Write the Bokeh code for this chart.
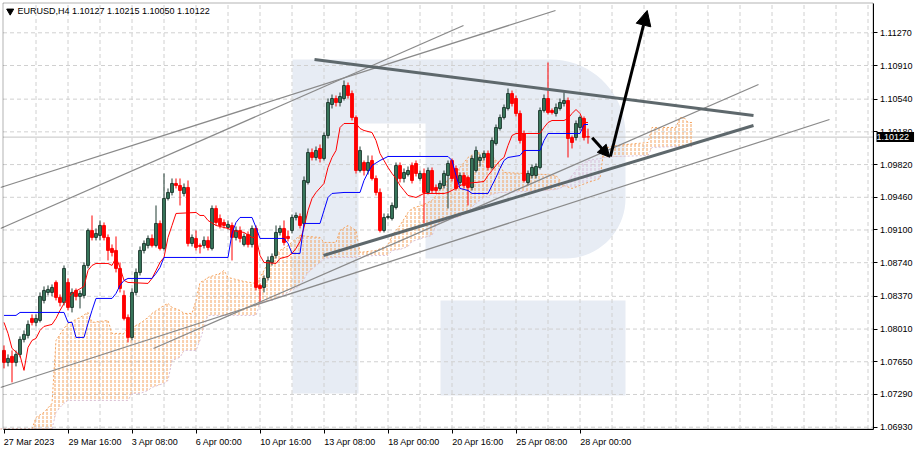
import numpy as np
from bokeh.plotting import figure
from bokeh.models import (Range1d, FixedTicker, PrintfTickFormatter, Label, BoxAnnotation,
                          Arrow, NormalHead, ColumnDataSource)
from bokeh.embed import file_html
from bokeh.resources import INLINE

# ---------------- data ----------------
x_tick_bars = [0, 16, 32, 48, 64, 80, 96, 112, 128, 144]
x_tick_labels = ["27 Mar 2023", "29 Mar 16:00", "3 Apr 08:00", "6 Apr 00:00",
                 "10 Apr 16:00", "13 Apr 08:00", "18 Apr 00:00", "20 Apr 16:00",
                 "25 Apr 08:00", "28 Apr 00:00"]
y_ticks = [1.06930, 1.07290, 1.07650, 1.08010, 1.08370, 1.08740, 1.09100,
           1.09460, 1.09820, 1.10180, 1.10540, 1.10910, 1.11270]
symbol_text = "EURUSD,H4  1.10127 1.10215 1.10050 1.10122"
bid_price = 1.10122

open_ = [1.07775, 1.07643, 1.07709, 1.07643, 1.07731, 1.07896, 1.07940, 1.08127, 1.08083, 1.08105,
         1.08325, 1.08413, 1.08413, 1.08523, 1.08358, 1.08303, 1.08523, 1.08248, 1.08435, 1.08369,
         1.08380, 1.08710, 1.09095, 1.09018, 1.09040, 1.09150, 1.09018, 1.08897, 1.08875, 1.08677,
         1.08380, 1.08138, 1.07918, 1.08413, 1.08633, 1.08875, 1.08930, 1.09007, 1.08930, 1.09172,
         1.08897, 1.09447, 1.09513, 1.09612, 1.09590, 1.09502, 1.09568, 1.08952, 1.09007, 1.08930,
         1.08930, 1.08985, 1.08897, 1.09337, 1.09227, 1.09183, 1.09128, 1.09150, 1.09018, 1.09095,
         1.08941, 1.09051, 1.08941, 1.09117, 1.08490, 1.08468, 1.08578, 1.08743, 1.08820, 1.09073,
         1.09117, 1.09029, 1.09095, 1.09238, 1.09249, 1.09172, 1.09623, 1.09953, 1.09898, 1.09997,
         1.09887, 1.10140, 1.10481, 1.10547, 1.10503, 1.10547, 1.10690, 1.10602, 1.10338, 1.09755,
         1.09843, 1.09755, 1.09865, 1.09667, 1.09513, 1.09095, 1.09238, 1.09227, 1.09348, 1.09810,
         1.09667, 1.09711, 1.09810, 1.09832, 1.09667, 1.09722, 1.09513, 1.09755, 1.09568, 1.09557,
         1.09590, 1.09700, 1.09865, 1.09777, 1.09623, 1.09700, 1.09678, 1.09568, 1.09755, 1.09865,
         1.09898, 1.09942, 1.09788, 1.10052, 1.10217, 1.10338, 1.10437, 1.10602, 1.10547, 1.10382,
         1.10162, 1.09623, 1.09700, 1.09700, 1.09788, 1.10415, 1.10547, 1.10415, 1.10382, 1.10437,
         1.10492, 1.10525, 1.10118, 1.10118, 1.10228, 1.10327, 1.10127]
close = [1.07643, 1.07687, 1.07643, 1.07731, 1.07896, 1.07951, 1.08061, 1.08083, 1.08127, 1.08369,
         1.08435, 1.08446, 1.08468, 1.08358, 1.08303, 1.08677, 1.08248, 1.08413, 1.08369, 1.08402,
         1.08710, 1.09095, 1.09018, 1.09062, 1.09150, 1.09018, 1.08875, 1.08853, 1.08677, 1.08457,
         1.08127, 1.07918, 1.08413, 1.08633, 1.08875, 1.08952, 1.09007, 1.08930, 1.09172, 1.08897,
         1.09447, 1.09513, 1.09612, 1.09590, 1.09535, 1.09568, 1.08952, 1.09018, 1.08908, 1.08919,
         1.08985, 1.08908, 1.09337, 1.09183, 1.09150, 1.09150, 1.09161, 1.09018, 1.09095, 1.09007,
         1.09029, 1.08941, 1.09117, 1.08468, 1.08457, 1.08567, 1.08765, 1.08809, 1.09073, 1.09117,
         1.08963, 1.09007, 1.09238, 1.09260, 1.09150, 1.09645, 1.09953, 1.09898, 1.09975, 1.09887,
         1.10140, 1.10503, 1.10547, 1.10503, 1.10569, 1.10690, 1.10580, 1.10338, 1.09755, 1.09975,
         1.09755, 1.09843, 1.09667, 1.09513, 1.09095, 1.09238, 1.09249, 1.09370, 1.09810, 1.09667,
         1.09733, 1.09755, 1.09645, 1.09722, 1.09722, 1.09513, 1.09755, 1.09535, 1.09535, 1.09612,
         1.09722, 1.09832, 1.09667, 1.09557, 1.09700, 1.09590, 1.09568, 1.09887, 1.09975, 1.09898,
         1.09942, 1.09788, 1.10085, 1.10228, 1.10338, 1.10448, 1.10602, 1.10492, 1.10382, 1.10085,
         1.09645, 1.09722, 1.09788, 1.09799, 1.10415, 1.10547, 1.10393, 1.10393, 1.10448, 1.10503,
         1.10525, 1.10107, 1.10063, 1.10272, 1.10338, 1.10118, 1.10122]
high = [1.07830, 1.07731, 1.07775, 1.07775, 1.07929, 1.07995, 1.08105, 1.08171, 1.08171, 1.08413,
        1.08479, 1.08490, 1.08501, 1.08545, 1.08391, 1.08710, 1.08567, 1.08457, 1.08457, 1.08435,
        1.08743, 1.09117, 1.09260, 1.09117, 1.09205, 1.09183, 1.09051, 1.08941, 1.09029, 1.08743,
        1.08435, 1.08171, 1.08457, 1.08677, 1.08919, 1.08985, 1.09040, 1.09051, 1.09370, 1.09205,
        1.09722, 1.09557, 1.09667, 1.09667, 1.09667, 1.09612, 1.09645, 1.09051, 1.09095, 1.08952,
        1.09029, 1.09029, 1.09370, 1.09370, 1.09271, 1.09216, 1.09205, 1.09183, 1.09139, 1.09139,
        1.09062, 1.09084, 1.09150, 1.09150, 1.08512, 1.08600, 1.08809, 1.08842, 1.09150, 1.09150,
        1.09205, 1.09095, 1.09271, 1.09293, 1.09282, 1.09689, 1.09997, 1.09997, 1.10019, 1.10041,
        1.10173, 1.10547, 1.10591, 1.10580, 1.10613, 1.10745, 1.10723, 1.10635, 1.10360, 1.10019,
        1.09865, 1.09920, 1.09920, 1.09700, 1.09557, 1.09282, 1.09282, 1.09403, 1.09843, 1.09843,
        1.09777, 1.09799, 1.09843, 1.09865, 1.09755, 1.09777, 1.09788, 1.09788, 1.09601, 1.09645,
        1.09755, 1.09865, 1.09887, 1.09810, 1.09733, 1.09733, 1.09700, 1.09920, 1.10019, 1.09931,
        1.09975, 1.09975, 1.10118, 1.10261, 1.10371, 1.10481, 1.10657, 1.10635, 1.10580, 1.10415,
        1.10195, 1.09755, 1.09821, 1.09832, 1.10448, 1.10591, 1.10943, 1.10437, 1.10492, 1.10547,
        1.10613, 1.10558, 1.10140, 1.10305, 1.10360, 1.10349, 1.10215]
low = [1.07577, 1.07599, 1.07423, 1.07599, 1.07698, 1.07863, 1.07907, 1.08050, 1.08039, 1.08083,
       1.08292, 1.08380, 1.08369, 1.08325, 1.08259, 1.08270, 1.08215, 1.08193, 1.08325, 1.08237,
       1.08347, 1.08677, 1.08985, 1.08985, 1.08985, 1.08985, 1.08765, 1.08809, 1.08633, 1.08413,
       1.08105, 1.07863, 1.07885, 1.08380, 1.08600, 1.08842, 1.08897, 1.08908, 1.08908, 1.08875,
       1.08875, 1.09425, 1.09480, 1.09557, 1.09370, 1.09469, 1.08919, 1.08919, 1.08875, 1.08842,
       1.08897, 1.08875, 1.08875, 1.09150, 1.09117, 1.09117, 1.09106, 1.08765, 1.08985, 1.08963,
       1.08919, 1.08908, 1.08908, 1.08435, 1.08303, 1.08413, 1.08545, 1.08710, 1.08787, 1.09040,
       1.08930, 1.08974, 1.09062, 1.09205, 1.09117, 1.09150, 1.09601, 1.09865, 1.09865, 1.09843,
       1.09865, 1.10107, 1.10437, 1.10459, 1.10459, 1.10525, 1.10547, 1.10305, 1.09722, 1.09733,
       1.09700, 1.09711, 1.09645, 1.09480, 1.09073, 1.09073, 1.09216, 1.09205, 1.09326, 1.09623,
       1.09623, 1.09689, 1.09612, 1.09689, 1.09645, 1.09172, 1.09491, 1.09502, 1.09502, 1.09535,
       1.09557, 1.09337, 1.09634, 1.09535, 1.09590, 1.09557, 1.09370, 1.09535, 1.09733, 1.09799,
       1.09865, 1.09755, 1.09766, 1.10030, 1.10195, 1.10316, 1.10415, 1.10459, 1.10349, 1.10052,
       1.09623, 1.09590, 1.09667, 1.09667, 1.09766, 1.10393, 1.10371, 1.10371, 1.10349, 1.10415,
       1.10459, 1.09898, 1.09997, 1.10085, 1.10195, 1.10085, 1.10050]

tenkan_bar = [0, 1, 2, 4, 5, 6, 7, 8, 9, 10,
              12, 13, 14, 15, 16, 17, 20, 21, 22, 23,
              26, 27, 28, 29, 30, 31, 36, 37, 38, 39,
              40, 41, 42, 43, 48, 49, 50, 51, 53, 56,
              57, 60, 62, 63, 64, 65, 68, 69, 71, 72,
              73, 74, 75, 76, 77, 78, 80, 81, 82, 83,
              84, 85, 88, 89, 90, 92, 93, 94, 95, 96,
              97, 98, 99, 100, 101, 103, 105, 110, 111, 112,
              115, 118, 120, 121, 122, 123, 124, 125, 126, 127,
              128, 134, 135, 136, 137, 140, 141, 142, 143, 144,
              145, 146]
tenkan = [1.08083, 1.07962, 1.07797, 1.07720, 1.07555, 1.07808, 1.07885, 1.07907, 1.07995, 1.08039,
          1.08061, 1.08127, 1.08215, 1.08292, 1.08347, 1.08402, 1.08479, 1.08655, 1.08710, 1.08732,
          1.08732, 1.08710, 1.08798, 1.08688, 1.08545, 1.08523, 1.08512, 1.08567, 1.08655, 1.08743,
          1.08798, 1.09018, 1.09150, 1.09282, 1.09293, 1.09260, 1.09260, 1.09205, 1.09150, 1.09117,
          1.09095, 1.09073, 1.09018, 1.09018, 1.08820, 1.08743, 1.08732, 1.08787, 1.08809, 1.08842,
          1.08897, 1.08974, 1.09128, 1.09315, 1.09447, 1.09513, 1.09612, 1.09788, 1.09898, 1.09975,
          1.10228, 1.10272, 1.10272, 1.10217, 1.10195, 1.10173, 1.10085, 1.09942, 1.09865, 1.09788,
          1.09722, 1.09667, 1.09590, 1.09535, 1.09480, 1.09458, 1.09502, 1.09502, 1.09513, 1.09535,
          1.09612, 1.09623, 1.09634, 1.09700, 1.09755, 1.09810, 1.09865, 1.09898, 1.10030, 1.10140,
          1.10162, 1.10162, 1.10228, 1.10283, 1.10305, 1.10305, 1.10327, 1.10382, 1.10426, 1.10382,
          1.10283, 1.10283]

kijun_bar = [0, 3, 4, 15, 16, 17, 18, 20, 21, 22, 23, 27, 28, 29, 30, 31, 37, 38, 39, 40,
             56, 57, 58, 59, 62, 63, 64, 70, 71, 72, 74, 75, 79, 80, 81, 82, 85, 89, 90, 91,
             92, 94, 96, 111, 112, 113, 114, 116, 117, 121, 122, 123, 124, 125, 126, 129, 130, 134, 135, 136,
             144, 145, 146]
kijun = [1.08160, 1.08160, 1.08193, 1.08193, 1.08083, 1.08083, 1.07918, 1.07918, 1.08072, 1.08215,
         1.08347, 1.08347, 1.08402, 1.08490, 1.08545, 1.08567, 1.08567, 1.08622, 1.08688, 1.08798,
         1.08798, 1.09062, 1.09183, 1.09238, 1.09238, 1.09128, 1.09007, 1.09007, 1.08952, 1.08842,
         1.08842, 1.09172, 1.09172, 1.09315, 1.09458, 1.09502, 1.09513, 1.09513, 1.09645, 1.09733,
         1.09810, 1.09865, 1.09909, 1.09909, 1.09865, 1.09700, 1.09557, 1.09535, 1.09502, 1.09502,
         1.09590, 1.09678, 1.09777, 1.09865, 1.09898, 1.09920, 1.09975, 1.09975, 1.10085, 1.10162,
         1.10162, 1.10261, 1.10261]

cloud_bar = [-1, 7, 8, 10, 12, 13, 14, 15, 16, 19,
             21, 22, 26, 27, 30, 31, 32, 34, 36, 37,
             40, 41, 42, 44, 45, 47, 48, 49, 50, 51,
             54, 55, 56, 59, 60, 63, 64, 66, 67, 69,
             71, 74, 76, 79, 80, 83, 84, 86, 88, 89,
             93, 96, 97, 99, 101, 102, 105, 107, 108, 110,
             112, 114, 116, 118, 120, 122, 124, 125, 130, 135,
             138, 140, 142, 144, 146, 149, 150, 153, 161, 162,
             168, 169, 170, 171, 172]
span_a = [1.06785, 1.06873, 1.07038, 1.07093, 1.07192, 1.07885, 1.07951, 1.08017, 1.08072, 1.08138,
          1.08193, 1.08083, 1.08105, 1.07962, 1.07962, 1.08028, 1.08028, 1.08072, 1.08138, 1.08182,
          1.08270, 1.08292, 1.08248, 1.08215, 1.08182, 1.08182, 1.08325, 1.08523, 1.08545, 1.08578,
          1.08622, 1.08655, 1.08578, 1.08545, 1.08534, 1.08512, 1.08578, 1.08732, 1.08798, 1.08875,
          1.08930, 1.09040, 1.09029, 1.09018, 1.08963, 1.08963, 1.09095, 1.09150, 1.09095, 1.08853,
          1.08875, 1.08930, 1.09040, 1.09150, 1.09293, 1.09337, 1.09381, 1.09425, 1.09480, 1.09612,
          1.09689, 1.09788, 1.09898, 1.09953, 1.09942, 1.09920, 1.09810, 1.09733, 1.09722, 1.09711,
          1.09700, 1.09590, 1.09557, 1.09590, 1.09623, 1.09667, 1.09997, 1.10030, 1.10063, 1.10228,
          1.10228, 1.10338, 1.10338, 1.10283, 1.10283]
span_b = [1.06730, 1.06730, 1.06730, 1.06730, 1.06785, 1.07093, 1.07148, 1.07192, 1.07225, 1.07225,
          1.07225, 1.07225, 1.07225, 1.07225, 1.07225, 1.07225, 1.07302, 1.07302, 1.07335, 1.07368,
          1.07412, 1.07445, 1.07665, 1.07698, 1.07775, 1.07775, 1.07775, 1.07885, 1.08028, 1.08160,
          1.08160, 1.08160, 1.08160, 1.08160, 1.08160, 1.08160, 1.08292, 1.08325, 1.08325, 1.08369,
          1.08413, 1.08490, 1.08633, 1.08743, 1.08787, 1.08798, 1.08798, 1.08798, 1.08798, 1.08809,
          1.08820, 1.08820, 1.08875, 1.08886, 1.08919, 1.08974, 1.09018, 1.09040, 1.09150, 1.09205,
          1.09227, 1.09249, 1.09315, 1.09392, 1.09458, 1.09491, 1.09513, 1.09513, 1.09524, 1.09535,
          1.09546, 1.09579, 1.09700, 1.09810, 1.09865, 1.09887, 1.09898, 1.09909, 1.09920, 1.10008,
          1.10019, 1.10019, 1.10019, 1.10019, 1.10019]

# analyst drawings: (bar, price) end points
thin_x0 = [-0.875, -0.875, -0.875, 37.375]
thin_y0 = [1.095677, 1.091165, 1.073669, 1.077960]
thin_x1 = [137.875, 114.875, 206.375, 188.625]
thin_y1 = [1.115154, 1.113503, 1.103159, 1.107011]
thick_x0 = [79.875, 77.625]
thick_y0 = [1.088194, 1.109762]
thick_x1 = [187.375, 187.375]
thick_y1 = [1.102499, 1.103599]
arrow_x0 = [147.05, 151.6]
arrow_y0 = [1.101145, 1.099088]
arrow_x1 = [151.45, 160.8]
arrow_y1 = [1.099011, 1.115154]

# ---------------- layout helpers (chart pixels -> data) ----------------
W, H = 919, 452

def bar_of(px):
    return (px - 3.5) / 4.0

def price_of(py):
    return 1.116254 - 0.00011004 * py

box_l, box_r = bar_of(2.5), bar_of(872.5)
box_t, box_b = price_of(2.5), price_of(428.5)

FONT = "Liberation Sans"
FS = "9px"
CW = {" ": .278, ":": .278, ".": .278, ",": .278, "M": .833, "a": .556, "r": .333,
      "A": .667, "p": .556}

def text_px(s, size=9.0):
    return sum(CW.get(ch, .556) for ch in s) * size

p = figure(frame_width=W, frame_height=H, output_backend="svg", toolbar_location=None,
           x_range=Range1d(bar_of(0), bar_of(W)), y_range=Range1d(price_of(H), price_of(0)),
           y_axis_location="right", min_border_left=0, min_border_top=0,
           min_border_bottom=0, min_border_right=0)
p.background_fill_color = "white"
p.border_fill_color = "white"
p.outline_line_color = None
p.xgrid.visible = False
p.ygrid.visible = False

# watermark (big R logo)
t = np.linspace(0, np.pi / 2, 20)
wx = [292, 550] + list(550 + 75 * np.sin(t)) + [625] + list(565 + 60 * np.cos(t)) + [425, 425, 358, 358, 292]
wy = [59, 59] + list(134 - 75 * np.cos(t)) + [198] + list(198 + 60 * np.sin(t)) + [258, 123, 123, 393, 393]
lx = [440, 625, 625, 440]
ly = [300, 300, 395, 395]
wm = p.patches(xs=[[bar_of(v) for v in wx], [bar_of(v) for v in lx]],
               ys=[[price_of(v) for v in wy], [price_of(v) for v in ly]],
               fill_color="#e7ecf4", line_color=None)
wm.level = "image"

# dashed grid inside the chart box
vg = [b for b in range(8, 224, 8) if b < box_r]
g1 = p.segment(x0=vg, y0=[box_b] * len(vg), x1=vg, y1=[box_t] * len(vg),
               line_color="#d0d0d0", line_dash="4 3", line_width=1)
g2 = p.segment(x0=[box_l] * len(y_ticks), y0=y_ticks, x1=[box_r] * len(y_ticks), y1=y_ticks,
               line_color="#d0d0d0", line_dash="4 3", line_width=1)
g3 = p.segment(x0=[box_l], y0=[bid_price], x1=[box_r], y1=[bid_price], line_color="#c4c4c4", line_width=1)
for g in (g1, g2, g3):
    g.level = "underlay"

# Ichimoku cloud (kept inside the chart box)
ca = np.maximum(np.array(span_a), box_b)
cb = np.maximum(np.array(span_b), box_b)
cx = np.array(cloud_bar, dtype=float)
upper = np.maximum(ca, cb)
p.varea(x=cx, y1=cb, y2=upper, fill_color=None, fill_alpha=0,
        hatch_pattern="vertical_dash", hatch_color="#f4a460", hatch_scale=4, hatch_weight=1)
p.varea(x=cx, y1=ca, y2=upper, fill_color=None, fill_alpha=0,
        hatch_pattern="vertical_dash", hatch_color="#d8bfd8", hatch_scale=4, hatch_weight=1)
p.line(cx, ca, line_color="#f4a460", line_width=1, line_dash="2 2")
p.line(cx, cb, line_color="#d8bfd8", line_width=1, line_dash="2 2")

# candles
o = np.array(open_); c = np.array(close); h = np.array(high); l = np.array(low)
bars = np.arange(len(o))
up = c >= o
dn = ~up
BULL_FILL, BULL_LINE, BEAR = "#3a7c5f", "#1f3a30", "#ff0000"
up_src = ColumnDataSource(dict(x=bars[up], o=o[up], c=c[up], h=h[up], l=l[up]))
dn_src = ColumnDataSource(dict(x=bars[dn], o=o[dn], c=c[dn], h=h[dn], l=l[dn]))
p.segment(x0="x", y0="l", x1="x", y1="h", source=up_src, line_color=BULL_LINE, line_width=1)
p.segment(x0="x", y0="l", x1="x", y1="h", source=dn_src, line_color=BEAR, line_width=1)
p.vbar(x="x", width=0.7, bottom="o", top="c", source=up_src, fill_color=BULL_FILL, line_color=BULL_LINE, line_width=1)
p.vbar(x="x", width=0.7, bottom="o", top="c", source=dn_src, fill_color=BEAR, line_color=BEAR, line_width=1)

# Tenkan / Kijun
p.line(tenkan_bar, tenkan, line_color="#ff0000", line_width=1)
p.line(kijun_bar, kijun, line_color="#0000ff", line_width=1)

# trend lines and arrows
p.segment(x0=thin_x0, y0=thin_y0, x1=thin_x1, y1=thin_y1, line_color="#8a8a8a", line_width=1.3)
p.segment(x0=thick_x0, y0=thick_y0, x1=thick_x1, y1=thick_y1, line_color="#5e686c", line_width=3)
for xs, ys, xe, ye, sz in zip(arrow_x0, arrow_y0, arrow_x1, arrow_y1, [12, 15]):
    p.add_layout(Arrow(end=NormalHead(size=sz, fill_color="black", line_color="black", line_width=1),
                       x_start=xs, y_start=ys, x_end=xe, y_end=ye,
                       line_color="black", line_width=3))

# chart box border
p.add_layout(BoxAnnotation(left=box_l, right=box_r, bottom=box_b, top=box_t,
                           fill_alpha=0, line_color="black", line_width=1))

# time axis: tick marks at the bar (minor ticks), labels placed to start at the tick
label_pos = [b + round(text_px(s) / 2) / 4 for b, s in zip(x_tick_bars, x_tick_labels)]
xax = p.xaxis[0]
xax.fixed_location = box_b
xax.bounds = (box_l, box_r)
xax.ticker = FixedTicker(ticks=label_pos, minor_ticks=x_tick_bars)
xax.major_label_overrides = {pos: s for pos, s in zip(label_pos, x_tick_labels)}
xax.major_tick_out = 0
xax.major_tick_in = 0
xax.minor_tick_out = 4
xax.minor_tick_in = 0
xax.minor_tick_line_color = "black"
xax.major_label_standoff = 4
xax.axis_line_color = "black"
xax.major_label_text_font = FONT
xax.major_label_text_font_size = FS
xax.major_label_text_color = "black"

# price axis
yax = p.yaxis[0]
yax.fixed_location = box_r
yax.bounds = (box_b, box_t)
yax.ticker = FixedTicker(ticks=y_ticks)
yax.formatter = PrintfTickFormatter(format="%.5f")
yax.major_tick_out = 4
yax.major_tick_in = 0
yax.minor_tick_out = 0
yax.minor_tick_in = 0
yax.major_label_standoff = 3
yax.axis_line_color = "black"
yax.major_tick_line_color = "black"
yax.major_label_text_font = FONT
yax.major_label_text_font_size = FS
yax.major_label_text_color = "black"

# symbol caption
p.scatter(x=[bar_of(9.7)], y=[price_of(10.6)], marker="inverted_triangle", size=7,
          fill_color="black", line_color="black")
p.add_layout(Label(x=bar_of(17), y=price_of(5), text=symbol_text, text_align="left", text_baseline="top",
                   text_font=FONT, text_font_size=FS, text_color="black"))

# bid price box on the price scale
p.add_layout(Label(x=box_r, y=bid_price, x_offset=3.5, text=" 1.10122 ", text_align="left",
                   text_baseline="middle", text_font=FONT, text_font_size=FS, text_color="white",
                   background_fill_color="black"))

open("out.html", "w").write(file_html(p, INLINE))
